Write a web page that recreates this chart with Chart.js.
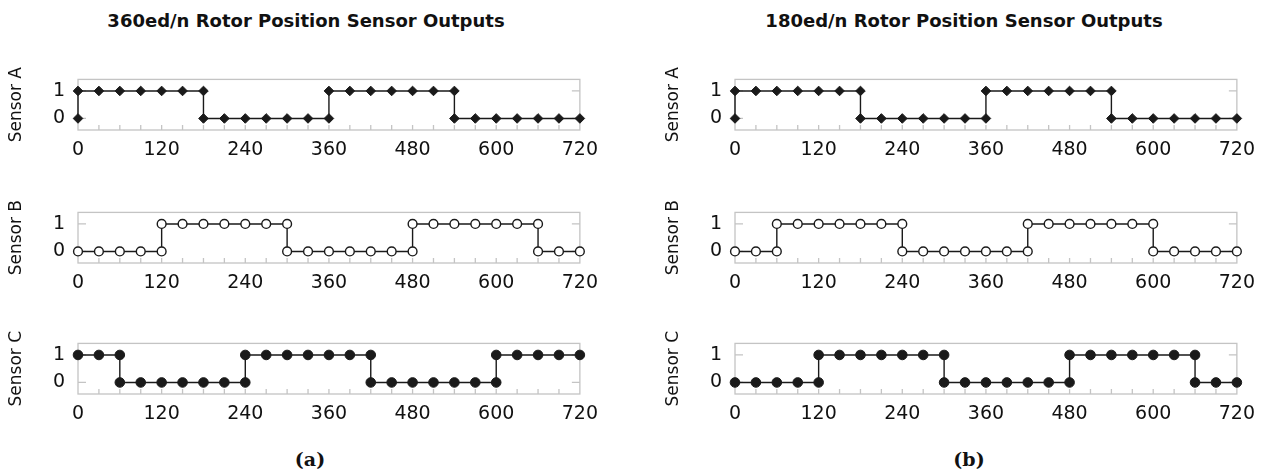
<!DOCTYPE html>
<html>
<head>
<meta charset="utf-8">
<script src="https://cdn.jsdelivr.net/npm/chart.js@4.4.1/dist/chart.umd.min.js"></script>
<style>
  html, body { margin: 0; padding: 0; background: #fff; }
  #page { position: relative; width: 1266px; height: 475px; overflow: hidden; }
  canvas { position: absolute; }
  .title { position: absolute; width: 500px; margin-left: -250px; text-align: center;
           font: bold 18px "DejaVu Sans", sans-serif; line-height: 22px; color: #111; }
  .caption { position: absolute; width: 100px; margin-left: -50px; text-align: center;
             font: bold 19px "DejaVu Serif", serif; line-height: 22px; color: #111; }
</style>
</head>
<body>
<div id="page">
  <div class="title" style="left:306px; top:10px;">360ed/n Rotor Position Sensor Outputs</div>
  <div class="title" style="left:964px; top:10px;">180ed/n Rotor Position Sensor Outputs</div>
  <canvas id="a1" width="607" height="110" style="left:0px; top:55px;"></canvas>
  <canvas id="a2" width="607" height="110" style="left:0px; top:188px;"></canvas>
  <canvas id="a3" width="607" height="110" style="left:0px; top:319px;"></canvas>
  <canvas id="b1" width="607" height="110" style="left:657px; top:55px;"></canvas>
  <canvas id="b2" width="607" height="110" style="left:657px; top:188px;"></canvas>
  <canvas id="b3" width="607" height="110" style="left:657px; top:319px;"></canvas>
  <div class="caption" style="left:310px; top:448px;">(a)</div>
  <div class="caption" style="left:969px; top:448px;">(b)</div>
</div>
<script>
// rotor angle (electrical degrees) of each sample
var angles = [0, 30, 60, 90, 120, 150, 180, 210, 240, 270, 300, 330, 360,
              390, 420, 450, 480, 510, 540, 570, 600, 630, 660, 690, 720];
var xTicks = [0, 120, 240, 360, 480, 600, 720];
var yTicks = [0, 1];

// sensor level at each angle; [before, after] where the output switches
var sensorA360 = [[0,1],1,1,1,1,1,[1,0],0,0,0,0,0,[0,1],1,1,1,1,1,[1,0],0,0,0,0,0,0];
var sensorB360 = [0,0,0,0,[0,1],1,1,1,1,1,[1,0],0,0,0,0,0,[0,1],1,1,1,1,1,[1,0],0,0];
var sensorC360 = [1,1,[1,0],0,0,0,0,0,[0,1],1,1,1,1,1,[1,0],0,0,0,0,0,[0,1],1,1,1,1];

var sensorA180 = [[0,1],1,1,1,1,1,[1,0],0,0,0,0,0,[0,1],1,1,1,1,1,[1,0],0,0,0,0,0,0];
var sensorB180 = [0,0,[0,1],1,1,1,1,1,[1,0],0,0,0,0,0,[0,1],1,1,1,1,1,[1,0],0,0,0,0];
var sensorC180 = [0,0,0,0,[0,1],1,1,1,1,1,[1,0],0,0,0,0,0,[0,1],1,1,1,1,1,[1,0],0,0];

var lineColor = '#1a1a1a';
var frameColor = '#c4c4c4';
Chart.defaults.font.family = '"DejaVu Sans", sans-serif';
Chart.defaults.color = '#111';

function toPoints(levels) {
    var pts = [];
    angles.forEach(function (a, i) {
        [].concat(levels[i]).forEach(function (v) { pts.push({x: a, y: v}); });
    });
    return pts;
}

var framePlugin = {
    id: 'frame',
    beforeDatasetsDraw: function (chart) {
        var ctx = chart.ctx, area = chart.chartArea;
        var x = chart.scales.x, y = chart.scales.y;
        ctx.save();
        ctx.strokeStyle = frameColor;
        ctx.lineWidth = 1.3;
        ctx.strokeRect(area.left, area.top, area.right - area.left, area.bottom - area.top);
        ctx.beginPath();
        for (var v = x.min + 30; v < x.max; v += 30) {
            var px = x.getPixelForValue(v);
            ctx.moveTo(px, area.bottom);
            ctx.lineTo(px, area.bottom - 5);
        }
        yTicks.forEach(function (t) {
            var py = y.getPixelForValue(t);
            ctx.moveTo(area.left, py);
            ctx.lineTo(area.left + 8, py);
            ctx.moveTo(area.right, py);
            ctx.lineTo(area.right - 8, py);
        });
        ctx.stroke();
        ctx.restore();
    }
};

function makeChart(id, label, levels, marker) {
    return new Chart(document.getElementById(id).getContext('2d'), {
        type: 'line',
        data: {
            datasets: [{
                data: toPoints(levels),
                borderColor: lineColor,
                borderWidth: 1.4,
                tension: 0,
                clip: false,
                pointStyle: marker.style,
                pointRadius: marker.radius,
                pointBackgroundColor: marker.fill,
                pointBorderColor: lineColor,
                pointBorderWidth: marker.border
            }]
        },
        options: {
            responsive: false,
            animation: false,
            events: [],
            layout: {
                padding: {top: 10, right: 25, bottom: 0, left: 0}
            },
            plugins: {
                legend: {display: false},
                tooltip: {enabled: false}
            },
            scales: {
                x: {
                    type: 'linear',
                    min: 0,
                    max: 720,
                    afterBuildTicks: function (s) { s.ticks = xTicks.map(function (v) { return {value: v}; }); },
                    afterFit: function (s) { s.height = 35; },
                    grid: {display: false, drawTicks: false},
                    border: {display: false},
                    ticks: {font: {size: 19}, padding: 9, maxRotation: 0, autoSkip: false}
                },
                y: {
                    min: -0.42,
                    max: 1.42,
                    afterBuildTicks: function (s) { s.ticks = yTicks.map(function (v) { return {value: v}; }); },
                    afterFit: function (s) { s.width = 78; },
                    grid: {display: false, drawTicks: false},
                    border: {display: false},
                    ticks: {font: {size: 19}, padding: 13},
                    title: {
                        display: true,
                        text: label,
                        font: {size: 17},
                        padding: {top: 6, bottom: 0}
                    }
                }
            }
        },
        plugins: [framePlugin]
    });
}

var diamond = {style: 'rectRot', radius: 4.8, fill: lineColor, border: 1};
var ring = {style: 'circle', radius: 4.4, fill: '#fff', border: 1.4};
var dot = {style: 'circle', radius: 4.8, fill: lineColor, border: 1};

makeChart('a1', 'Sensor A', sensorA360, diamond);
makeChart('a2', 'Sensor B', sensorB360, ring);
makeChart('a3', 'Sensor C', sensorC360, dot);
makeChart('b1', 'Sensor A', sensorA180, diamond);
makeChart('b2', 'Sensor B', sensorB180, ring);
makeChart('b3', 'Sensor C', sensorC180, dot);
</script>
</body>
</html>
